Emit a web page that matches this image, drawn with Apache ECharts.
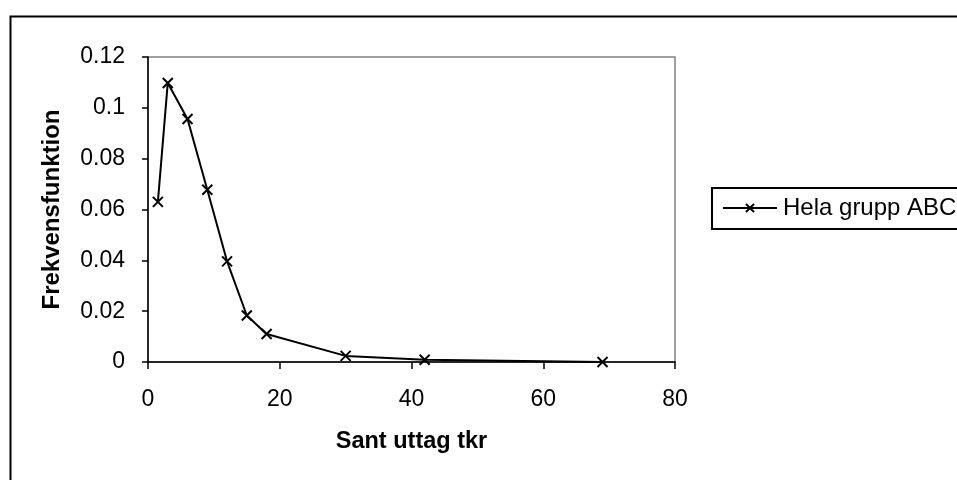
<!DOCTYPE html>
<html>
<head>
<meta charset="utf-8">
<script src="https://cdn.jsdelivr.net/npm/echarts@6/dist/echarts.min.js"></script>
<style>
html,body{margin:0;padding:0;background:#fff;}
#c{width:957px;height:480px;}
</style>
</head>
<body>
<div id="c"></div>
<script>
var xValues = [1.5, 3, 6, 9, 12, 15, 18, 30, 42, 69];
var yValues = [0.063, 0.1098, 0.0956, 0.0678, 0.0396, 0.0183, 0.011, 0.0024, 0.0009, 0.0];
var seriesName = 'Hela grupp ABC';
var xTitle = 'Sant uttag tkr';
var yTitle = 'Frekvensfunktion';

var chart = echarts.init(document.getElementById('c'), null, {renderer: 'canvas'});
var font = '"Liberation Sans", Arial, sans-serif';
var xMark = 'path://M0,0L10,10M10,0L0,10';

chart.setOption({
  animation: false,
  backgroundColor: '#fff',
  textStyle: {fontFamily: font},
  graphic: [{
    type: 'rect', left: 8, top: 14,
    shape: {width: 970, height: 480},
    style: {fill: 'none', stroke: '#000', lineWidth: 2},
    silent: true, z: -1
  }],
  grid: {
    left: 148, top: 57, width: 527, height: 305,
    show: true, borderColor: '#808080', borderWidth: 1.5, backgroundColor: 'transparent'
  },
  xAxis: {
    type: 'value', min: 0, max: 80, interval: 20,
    name: xTitle, nameLocation: 'middle', nameGap: 68,
    nameTextStyle: {fontFamily: font, fontSize: 23.5, fontWeight: 'bold', color: '#000'},
    axisLine: {show: true, lineStyle: {color: '#000', width: 1.5}},
    axisTick: {show: true, inside: false, length: 7, lineStyle: {color: '#000', width: 1.5}},
    axisLabel: {fontFamily: font, fontSize: 23, color: '#000', margin: 26},
    splitLine: {show: false}
  },
  yAxis: {
    type: 'value', min: 0, max: 0.12, interval: 0.02,
    name: yTitle, nameLocation: 'middle', nameGap: 84, nameRotate: 90,
    nameTextStyle: {fontFamily: font, fontSize: 24, fontWeight: 'bold', color: '#000'},
    axisLine: {show: true, lineStyle: {color: '#000', width: 1.5}},
    axisTick: {show: true, inside: false, length: 6, lineStyle: {color: '#000', width: 1.5}},
    axisLabel: {fontFamily: font, fontSize: 23, color: '#000', margin: 23},
    splitLine: {show: false}
  },
  legend: {
    show: true,
    left: 712, top: 188,
    orient: 'vertical',
    padding: [8, 40, 9, 10],
    borderColor: '#000', borderWidth: 2,
    itemWidth: 54, itemHeight: 10, itemGap: 0,
    textStyle: {fontFamily: font, fontSize: 24, color: '#000', padding: [0, 0, 0, 1]},
    data: [{name: seriesName}]
  },
  series: [{
    name: seriesName,
    type: 'line',
    data: xValues.map(function (x, i) { return [x, yValues[i]]; }),
    symbol: xMark,
    symbolSize: 10,
    showAllSymbol: true,
    lineStyle: {color: '#000', width: 2},
    itemStyle: {color: 'transparent', borderColor: '#000', borderWidth: 2},
    z: 5
  }]
});
</script>
</body>
</html>
